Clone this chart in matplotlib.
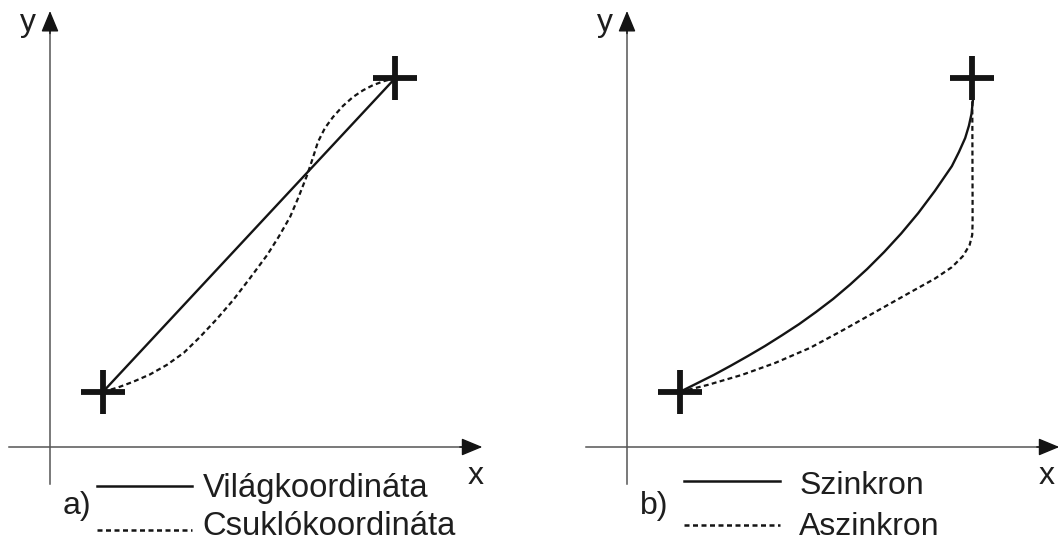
import matplotlib
matplotlib.use("Agg")
import matplotlib.pyplot as plt

plt.rcParams['font.family'] = ['Liberation Sans', 'DejaVu Sans']

# ---- data (panel coordinates, origin at axis crossing) ----
start_pt = (1.43, 1.49)
end_pt = (9.33, 9.97)

# panel a: world-coordinate path (straight) and joint-coordinate path (S-curve)
a_solid_x = [start_pt[0], end_pt[0]]
a_solid_y = [start_pt[1], end_pt[1]]
a_dashed_x = [1.43, 1.84, 2.24, 2.70, 3.16, 3.62, 4.05, 4.51, 4.95, 5.41, 5.87,
              6.18, 6.49, 6.72, 6.95, 7.10, 7.24, 7.43, 7.65, 7.92, 8.19, 8.46,
              8.73, 9.03, 9.33]
a_dashed_y = [1.49, 1.61, 1.76, 1.96, 2.22, 2.55, 2.97, 3.46, 3.97, 4.57, 5.19,
              5.68, 6.22, 6.76, 7.35, 7.80, 8.24, 8.62, 8.92, 9.22, 9.46, 9.64,
              9.78, 9.89, 9.97]

# panel b: synchronous (solid) and asynchronous (dashed) paths
b_solid_x = [1.43, 1.89, 2.35, 2.81, 3.27, 3.73, 4.19, 4.65, 5.11, 5.57, 6.03,
             6.49, 6.95, 7.41, 7.87, 8.32, 8.78, 8.97, 9.14, 9.24, 9.31, 9.35,
             9.35, 9.33]
b_solid_y = [1.49, 1.72, 1.95, 2.20, 2.46, 2.73, 3.02, 3.32, 3.65, 4.00, 4.39,
             4.81, 5.27, 5.77, 6.32, 6.92, 7.59, 7.97, 8.35, 8.68, 9.00, 9.38,
             9.70, 9.97]
b_dashed_x = [1.43, 2.19, 3.11, 4.00, 4.95, 5.84, 6.73, 7.62, 8.32, 8.78, 9.08,
              9.26, 9.33, 9.34, 9.34, 9.33]
b_dashed_y = [1.49, 1.68, 1.95, 2.27, 2.68, 3.16, 3.66, 4.16, 4.55, 4.86, 5.16,
              5.46, 5.73, 6.03, 6.68, 9.97]

panel_labels = ["a)", "b)"]
legend_labels = [["Világkoordináta", "Csuklókoordináta"],
                 ["Szinkron", "Aszinkron"]]
axis_labels = ["x", "y"]

# ---- figure ----
W, H, DPI = 1058, 542, 100
UNIT = 37.0  # pixels per data unit
fig = plt.figure(figsize=(W / DPI, H / DPI), dpi=DPI)
fig.patch.set_facecolor("white")

origins = [(50, 447), (627, 447)]
rects = [(0, 529), (529, 1058)]

axis_col = "#555555"
ink = "#141414"
txt_col = "#1e1e1e"
FS = 23
leg_fs = [23.6, 23]

curves = [((a_solid_x, a_solid_y), (a_dashed_x, a_dashed_y)),
          ((b_solid_x, b_solid_y), (b_dashed_x, b_dashed_y))]
leg_y = [(-1.05, -2.24), (-0.92, -2.11)]
leg_x = [(1.27, 3.84), (1.54, 4.14)]
txt_x = [4.13, 4.65]
txt_base = [(-1.35, -2.38), (-1.27, -2.38)]
xlab_x = [11.3, 11.12]

for i in range(2):
    ox, oy = origins[i]
    x0, x1 = rects[i]
    ax = fig.add_axes([x0 / W, 0, (x1 - x0) / W, 1])
    ax.set_xlim((x0 - ox) / UNIT, (x1 - ox) / UNIT)
    ax.set_ylim((oy - H) / UNIT, oy / UNIT)
    ax.axis("off")

    # axes with arrows
    ax.plot([-1.11, 11.45], [0, 0], color=axis_col, lw=1.1, clip_on=False)
    ax.plot([0, 0], [-1.0, 11.55], color=axis_col, lw=1.1, clip_on=False)
    ax.annotate("", xy=(11.76, 0), xytext=(11.0, 0),
                arrowprops=dict(arrowstyle="-|>,head_length=0.65,head_width=0.27",
                                mutation_scale=20, color=ink, lw=1.0),
                annotation_clip=False)
    ax.annotate("", xy=(0, 11.86), xytext=(0, 11.1),
                arrowprops=dict(arrowstyle="-|>,head_length=0.65,head_width=0.27",
                                mutation_scale=20, color=ink, lw=1.0),
                annotation_clip=False)
    ax.text(xlab_x[i], -1.0, axis_labels[0], fontsize=FS, color=txt_col,
            ha="left", va="baseline")
    ax.text(-0.81, 11.25, axis_labels[1], fontsize=FS, color=txt_col,
            ha="left", va="baseline")

    (sx, sy), (dx, dy) = curves[i]
    ax.plot(sx, sy, color=ink, lw=1.7, solid_joinstyle="round",
            solid_capstyle="round")
    ax.plot(dx, dy, color=ink, lw=1.6, dashes=(2.2, 1.5))

    # start / end markers
    ax.plot([start_pt[0], end_pt[0]], [start_pt[1], end_pt[1]], ls="none",
            marker="+", ms=31, mew=4.2, color=ink, zorder=5)

    # legend
    ax.plot(leg_x[i], [leg_y[i][0]] * 2, color=ink, lw=1.8, clip_on=False)
    ax.plot(leg_x[i], [leg_y[i][1]] * 2, color=ink, lw=1.8, dashes=(2.0, 1.4),
            clip_on=False)
    ax.text(txt_x[i], txt_base[i][0], legend_labels[i][0], fontsize=leg_fs[i],
            color=txt_col, ha="left", va="baseline")
    ax.text(txt_x[i], txt_base[i][1], legend_labels[i][1], fontsize=leg_fs[i],
            color=txt_col, ha="left", va="baseline")
    ax.text(0.35, -1.81, panel_labels[i], fontsize=FS, color=txt_col,
            ha="left", va="baseline")

fig.savefig("out.png", dpi=DPI, facecolor="white")
